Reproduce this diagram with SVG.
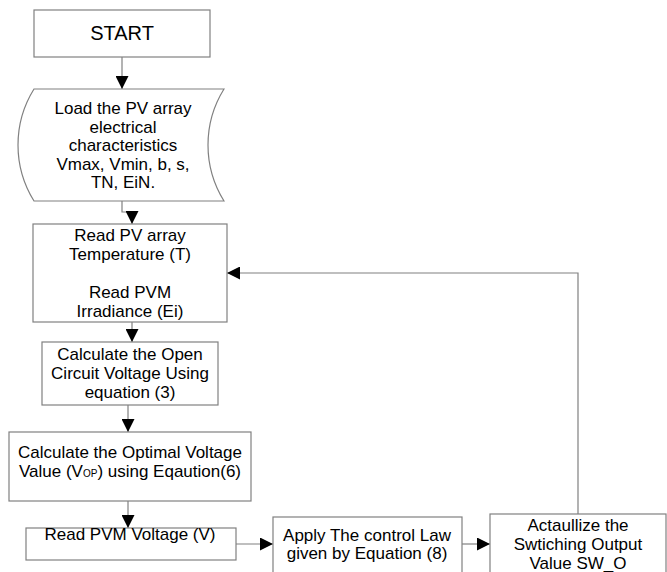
<svg xmlns="http://www.w3.org/2000/svg" width="667" height="572" viewBox="0 0 667 572">
<style>
.box{fill:#fff;stroke:#808080;stroke-width:1.2}
.t{font-family:"Liberation Sans",Arial,sans-serif;font-size:17px;fill:#000;text-anchor:middle}
.c{fill:none;stroke:#808080;stroke-width:1.2}
</style>
<defs>
<marker id="ah" markerUnits="userSpaceOnUse" markerWidth="13" markerHeight="13" viewBox="0 0 12 12" refX="12" refY="6" orient="auto">
<path d="M0,0 L12,6 L0,12 Z" fill="#000"/>
</marker>
</defs>
<rect width="667" height="572" fill="#fff"/>
<g id="connectors">
<path class="c" d="M122,57 V89" marker-end="url(#ah)"/>
<path class="c" d="M122,201 V212 H132 V224" marker-end="url(#ah)"/>
<path class="c" d="M132,322 V342" marker-end="url(#ah)"/>
<path class="c" d="M128,405 V432" marker-end="url(#ah)"/>
<path class="c" d="M128,501 V528" marker-end="url(#ah)"/>
<path class="c" d="M236,544 H273" marker-end="url(#ah)"/>
<path class="c" d="M462,544 H490" marker-end="url(#ah)"/>
<path class="c" d="M578,514 V273 H227" marker-end="url(#ah)"/>
</g>
<g id="start">
<rect class="box" x="34" y="10" width="176" height="47"/>
<text class="t" x="122" y="40" style="font-size:20px">START</text>
</g>
<g id="load">
<path class="box" d="M34,89 H224 A106,106 0 0 0 224,201 H34 A106,106 0 0 1 34,89 Z"/>
<text class="t" x="123" y="114">Load the PV array</text>
<text class="t" x="123" y="132.5">electrical</text>
<text class="t" x="123" y="151">characteristics</text>
<text class="t" x="123" y="169.5">Vmax, Vmin, b, s,</text>
<text class="t" x="123" y="188">TN, EiN.</text>
</g>
<g id="read">
<rect class="box" x="33" y="224" width="194" height="98"/>
<text class="t" x="130" y="241">Read PV array</text>
<text class="t" x="130" y="260">Temperature (T)</text>
<text class="t" x="130" y="298">Read PVM</text>
<text class="t" x="130" y="317">Irradiance (Ei)</text>
</g>
<g id="calc-open">
<rect class="box" x="42" y="342" width="176" height="63"/>
<text class="t" x="130" y="360">Calculate the Open</text>
<text class="t" x="130" y="379">Circuit Voltage Using</text>
<text class="t" x="130" y="398">equation (3)</text>
</g>
<g id="calc-opt">
<rect class="box" x="9" y="432" width="242" height="69"/>
<text class="t" x="130" y="458">Calculate the Optimal Voltage</text>
<text class="t" x="130" y="477">Value (V<tspan style="font-size:10px">OP</tspan>) using Eqaution(6)</text>
</g>
<g id="read-v">
<rect class="box" x="26" y="528" width="210" height="32"/>
<text class="t" x="130" y="540">Read PVM Voltage (V)</text>
</g>
<g id="apply">
<rect class="box" x="273" y="517" width="189" height="60"/>
<text class="t" x="367" y="541">Apply The control Law</text>
<text class="t" x="367" y="559">given by Equation (8)</text>
</g>
<g id="actualize">
<rect class="box" x="490" y="514" width="176" height="62"/>
<text class="t" x="578" y="531">Actaullize the</text>
<text class="t" x="578" y="550">Swtiching Output</text>
<text class="t" x="578" y="569">Value SW_O</text>
</g>
</svg>
